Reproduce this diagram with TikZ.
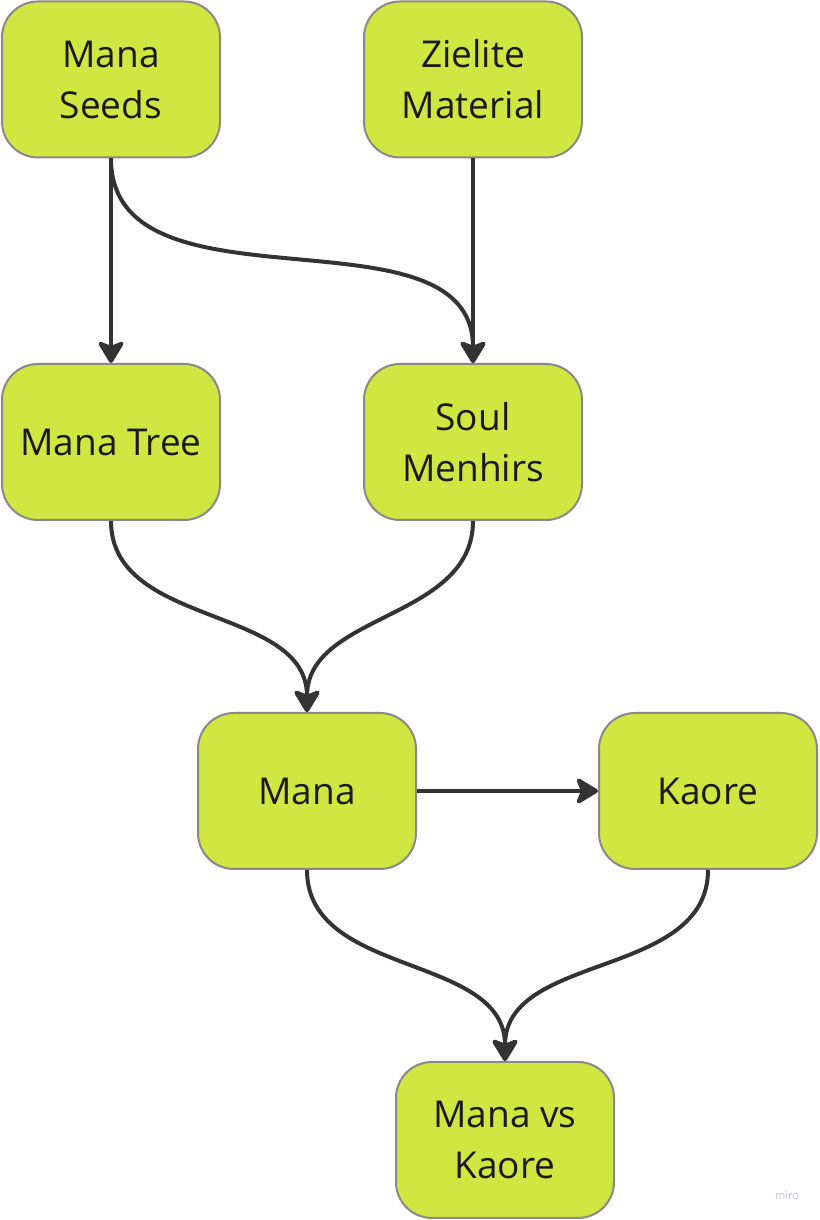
\documentclass[tikz,border=0pt]{standalone}
\usepackage{fontspec}
\setmainfont{Open Sans}
\usetikzlibrary{arrows.meta,positioning}
\definecolor{lime}{HTML}{CEE741}
\definecolor{rim}{HTML}{898989}
\definecolor{ink}{HTML}{1A1A1A}
\definecolor{wire}{HTML}{333333}
\definecolor{wmark}{HTML}{C6C2D2}

\begin{document}
\begin{tikzpicture}[
    x=1pt, y=1pt,
    item/.style={draw=rim,fill=lime,line width=2pt,rounded corners=36pt,
        minimum width=218pt,minimum height=156pt,align=center,text=ink,
        font=\fontsize{37}{51}\selectfont},
    arrow/.style={draw=wire,line width=4pt,
        -{Stealth[length=25pt,width=30pt,inset=6pt,round]}},
    curved/.style={arrow,out=-90,in=90}
]
\path[use as bounding box] (0,0) rectangle (819,1220);

\node[item] (seeds) at (111,1140.5) {Mana\\Seeds};
\node[item] (zielite) at (473,1140.5) {Zielite\\Material};
\node[item] (tree) at (111,778) {Mana Tree};
\node[item] (soul) at (473,778) {Soul\\Menhirs};
\node[item] (mana) at (307,429) {Mana};
\node[item] (kaore) at (708,429) {Kaore};
\node[item] (vs) at (505,80) {Mana vs\\Kaore};

\draw[arrow] (seeds.south) -- (tree.north);
\draw[arrow] (zielite.south) -- (soul.north);
\draw[curved] (seeds.south) to (soul.north);
\draw[curved] (tree.south) to (mana.north);
\draw[curved] (soul.south) to (mana.north);
\draw[arrow] (mana.east) -- (kaore.west);
\draw[curved] (mana.south) to (vs.north);
\draw[curved] (kaore.south) to (vs.north);

% board watermark
\node[text=wmark,font=\fontsize{11}{13}\selectfont] (miro) at (787,24) {miro};
\end{tikzpicture}
\end{document}
